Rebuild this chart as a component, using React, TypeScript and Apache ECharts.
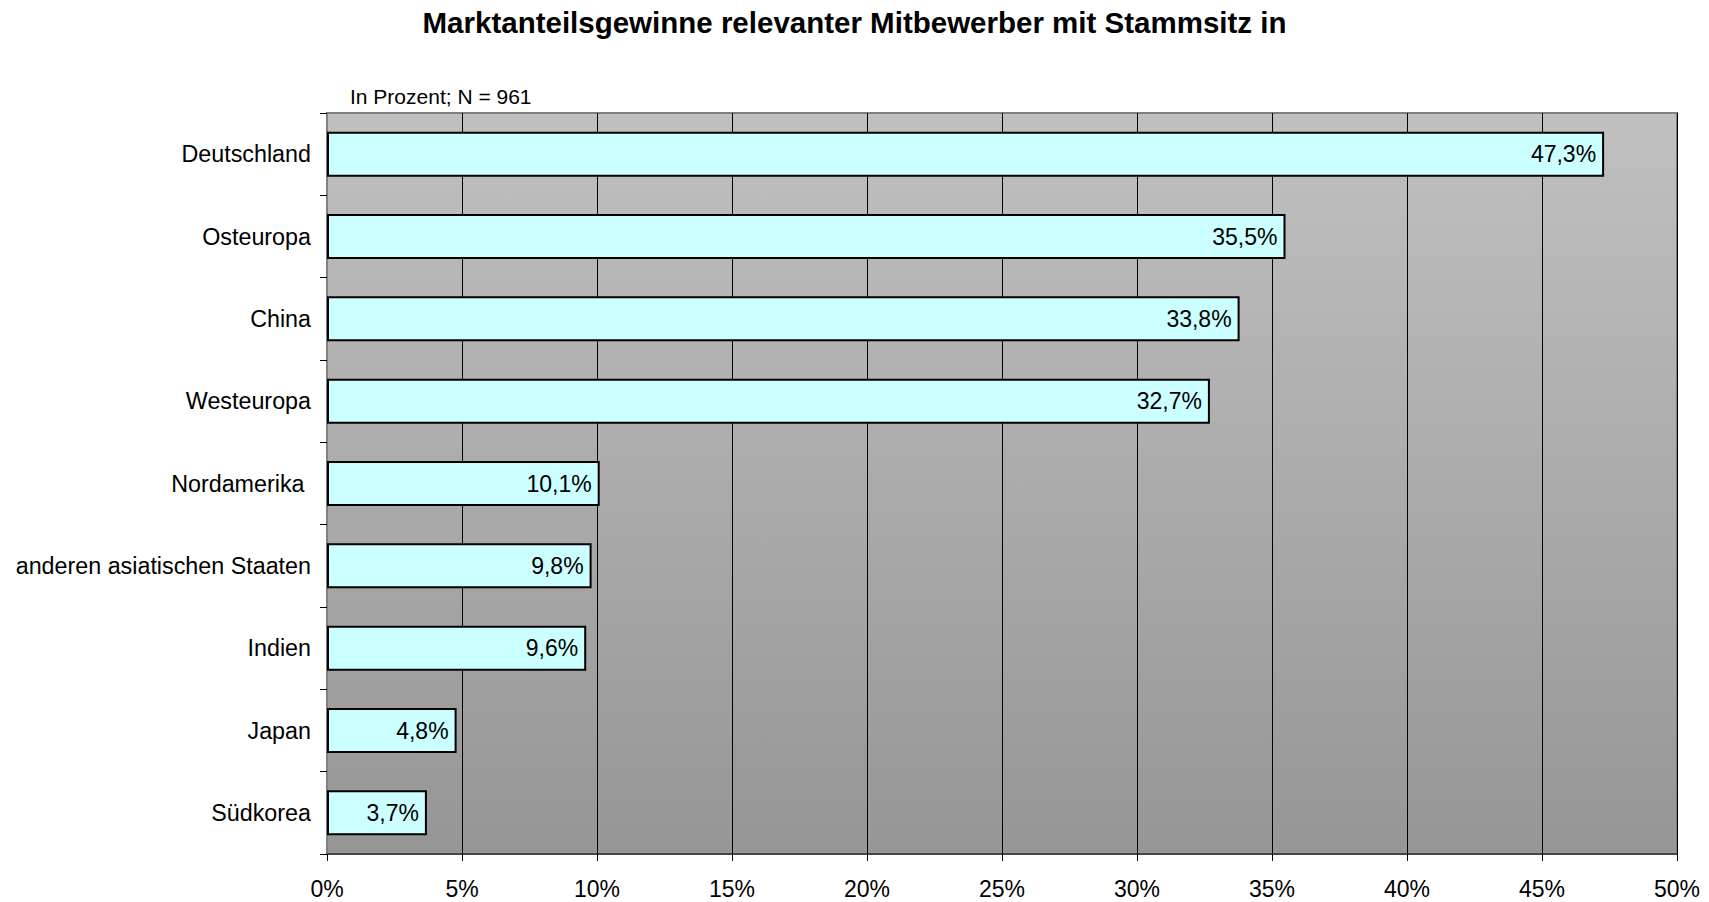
import React, { useEffect, useRef } from "react";
import * as echarts from "echarts";

const title = "Marktanteilsgewinne relevanter Mitbewerber mit Stammsitz in";
const subtitle = "In Prozent; N = 961";
const categories = [
  "Deutschland",
  "Osteuropa",
  "China",
  "Westeuropa",
  "Nordamerika ",
  "anderen asiatischen Staaten",
  "Indien",
  "Japan",
  "Südkorea",
];
const values = [47.3, 35.5, 33.8, 32.7, 10.1, 9.8, 9.6, 4.8, 3.7];

const FONT = "'Liberation Sans', Arial, sans-serif";

export default function App() {
  const ref = useRef<HTMLDivElement>(null);
  useEffect(() => {
    if (!ref.current) return;
    const chart = echarts.init(ref.current, undefined, { renderer: "svg" });
    chart.setOption({
      animation: false,
      backgroundColor: "#ffffff",
      title: [
        {
          text: title,
          left: "center",
          top: 2,
          textStyle: { fontFamily: FONT, fontSize: 29.5, fontWeight: "bold", color: "#000" },
        },
        {
          text: subtitle,
          left: 345,
          top: 81,
          textStyle: { fontFamily: FONT, fontSize: 21, fontWeight: "normal", color: "#000" },
        },
      ],
      grid: {
        left: 327,
        right: 32,
        top: 113,
        bottom: 48,
        show: true,
        borderColor: "#808080",
        borderWidth: 2,
        backgroundColor: new echarts.graphic.LinearGradient(0, 0, 0, 1, [
          { offset: 0, color: "#c0c0c0" },
          { offset: 1, color: "#969696" },
        ]),
      },
      xAxis: {
        type: "value",
        min: 0,
        max: 50,
        interval: 5,
        axisLine: { show: true, lineStyle: { color: "#333", width: 1.5 } },
        axisTick: { show: true, length: 7, lineStyle: { color: "#000" } },
        axisLabel: {
          formatter: "{value}%",
          fontFamily: FONT,
          fontSize: 23,
          color: "#000",
          margin: 23,
        },
        splitLine: { show: true, lineStyle: { color: "#000", width: 1 } },
      },
      yAxis: {
        type: "category",
        data: categories,
        inverse: true,
        axisLine: { show: true, lineStyle: { color: "#808080", width: 2 } },
        axisTick: { show: true, length: 7, lineStyle: { color: "#000" } },
        axisLabel: {
          fontFamily: FONT,
          fontSize: 23.3,
          color: "#000",
          margin: 16,
        },
        splitLine: { show: false },
      },
      series: [
        {
          type: "bar",
          data: values,
          barWidth: 45,
          itemStyle: { color: "#ccffff", borderColor: "#000", borderWidth: 2 },
          label: {
            show: true,
            position: "insideRight",
            distance: 8,
            formatter: (p: any) => p.value.toFixed(1).replace(".", ",") + "%",
            fontFamily: FONT,
            fontSize: 23,
            color: "#000",
          },
        },
      ],
    });
    return () => chart.dispose();
  }, []);
  return (
    <div
      ref={ref}
      style={{ position: "fixed", left: 0, top: 0, width: 1709, height: 902 }}
    />
  );
}
